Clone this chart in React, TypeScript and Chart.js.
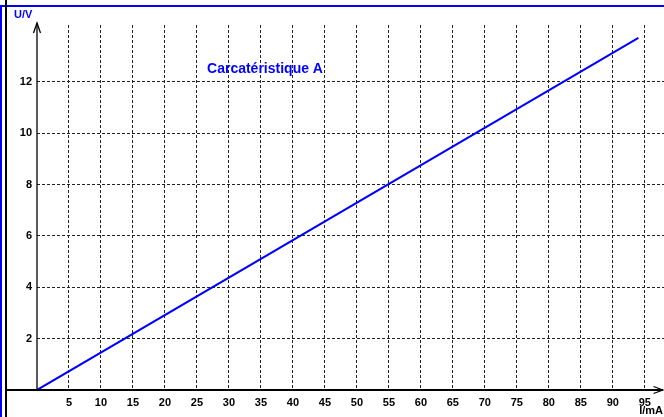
import React, { useEffect, useRef } from "react";
import { Chart, registerables } from "chart.js";

Chart.register(...registerables);

const currentMA = [0, 94];
const voltageV = [0, 13.72];
const xTickValues = [0, 5, 10, 15, 20, 25, 30, 35, 40, 45, 50, 55, 60, 65, 70, 75, 80, 85, 90, 95];
const yTickValues = [0, 2, 4, 6, 8, 10, 12];
const seriesLabel = "Carcatéristique A";
const xAxisLabel = "I/mA";
const yAxisLabel = "U/V";

const FONT = "'Liberation Sans', Arial, sans-serif";
const BLUE = "#0000ff";

const decorPlugin = {
  id: "decor",
  afterDraw(chart: any) {
    const ctx = chart.ctx as CanvasRenderingContext2D;
    const xs = chart.scales.x;
    const ys = chart.scales.y;
    const x0 = xs.getPixelForValue(0);
    const y0 = ys.getPixelForValue(0);
    const W = chart.width;
    const H = chart.height;
    ctx.save();
    // frame lines
    ctx.strokeStyle = BLUE;
    ctx.lineWidth = 2;
    ctx.beginPath();
    ctx.moveTo(0, 6);
    ctx.lineTo(W, 6);
    ctx.moveTo(1, 6);
    ctx.lineTo(1, H);
    ctx.stroke();
    ctx.strokeStyle = "#000";
    ctx.lineWidth = 2;
    ctx.beginPath();
    ctx.moveTo(6, 0);
    ctx.lineTo(6, H);
    ctx.stroke();
    // x axis
    ctx.lineWidth = 2;
    ctx.beginPath();
    ctx.moveTo(6, y0);
    ctx.lineTo(W - 1, y0);
    ctx.stroke();
    ctx.lineWidth = 1.2;
    ctx.beginPath();
    ctx.moveTo(W - 10.5, y0 - 3.5);
    ctx.lineTo(W - 1, y0);
    ctx.lineTo(W - 10.5, y0 + 3.5);
    ctx.stroke();
    // y axis
    const yTop = 23;
    ctx.lineWidth = 1.3;
    ctx.beginPath();
    ctx.moveTo(x0, y0);
    ctx.lineTo(x0, yTop);
    ctx.stroke();
    ctx.beginPath();
    ctx.moveTo(x0 - 3.5, yTop + 10);
    ctx.lineTo(x0, yTop);
    ctx.lineTo(x0 + 3.5, yTop + 10);
    ctx.stroke();
    // texts
    ctx.font = `bold 11px ${FONT}`;
    ctx.fillStyle = BLUE;
    ctx.textAlign = "left";
    ctx.textBaseline = "middle";
    ctx.fillText(yAxisLabel, 14, 15);
    ctx.fillStyle = "#000";
    ctx.textAlign = "right";
    ctx.fillText(xAxisLabel, W - 1, 411);
    ctx.font = `bold 14px ${FONT}`;
    ctx.fillStyle = BLUE;
    ctx.textAlign = "center";
    ctx.fillText(seriesLabel, 265, 69);
    ctx.restore();
  },
};

export default function App() {
  const ref = useRef<HTMLCanvasElement>(null);
  useEffect(() => {
    const canvas = ref.current!;
    const chart = new Chart(canvas, {
      type: "line",
      data: {
        datasets: [
          {
            label: seriesLabel,
            data: currentMA.map((x, i) => ({ x, y: voltageV[i] })),
            borderColor: BLUE,
            borderWidth: 2,
            pointRadius: 0,
            fill: false,
            tension: 0,
          },
        ],
      },
      options: {
        responsive: false,
        animation: false,
        events: [],
        layout: { padding: { top: 25, left: 0, right: 0, bottom: 0 } },
        plugins: { legend: { display: false }, tooltip: { enabled: false }, title: { display: false } },
        scales: {
          x: {
            type: "linear",
            min: 0,
            max: 98,
            afterBuildTicks: (s: any) => {
              s.ticks = xTickValues.map((v) => ({ value: v }));
            },
            afterFit: (s: any) => {
              s.height = 27;
            },
            grid: {
              color: (c: any) => (c.tick && c.tick.value === 0 ? "rgba(0,0,0,0)" : "#222"),
              lineWidth: 1,
              drawTicks: false,
            },
            border: { display: false, dash: [3, 2] },
            ticks: {
              autoSkip: false,
              maxRotation: 0,
              padding: 6,
              color: "#000",
              font: { family: FONT, size: 11, weight: "bold" },
              callback: (v: any) => (v === 0 ? "" : String(v)),
            },
          },
          y: {
            type: "linear",
            min: 0,
            max: 14.22,
            afterBuildTicks: (s: any) => {
              s.ticks = yTickValues.map((v) => ({ value: v }));
            },
            afterFit: (s: any) => {
              s.width = 37;
            },
            grid: {
              color: (c: any) => (c.tick && c.tick.value === 0 ? "rgba(0,0,0,0)" : "#222"),
              lineWidth: 1,
              drawTicks: false,
            },
            border: { display: false, dash: [3, 2] },
            ticks: {
              autoSkip: false,
              padding: 5,
              color: "#000",
              font: { family: FONT, size: 11, weight: "bold" },
              callback: (v: any) => (v === 0 ? "" : String(v)),
            },
          },
        },
      },
      plugins: [decorPlugin],
    } as any);
    return () => chart.destroy();
  }, []);
  return (
    <div style={{ position: "absolute", left: 0, top: 0, width: 664, height: 417, background: "#fff" }}>
      <canvas ref={ref} width={664} height={417} />
    </div>
  );
}
